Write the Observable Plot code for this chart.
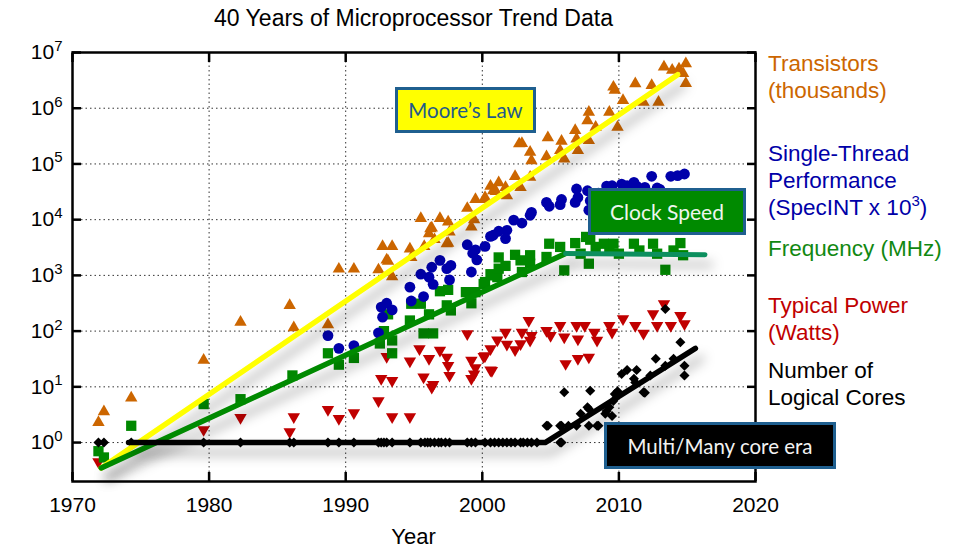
<!DOCTYPE html>
<html><head><meta charset="utf-8">
<script src="https://cdn.jsdelivr.net/npm/d3@7"></script>
<script src="https://cdn.jsdelivr.net/npm/@observablehq/plot@0.6"></script>
<style>
body{margin:0;background:#fff;font-family:"Liberation Sans",Arial,sans-serif;}
#wrap{position:relative;width:963px;height:549px;overflow:hidden;background:#fff;}
#title{position:absolute;left:72px;width:683px;top:0;height:36px;line-height:36px;text-align:center;font-size:23px;color:#000;}
#xlabel{position:absolute;left:72px;width:683px;top:524px;height:26px;line-height:26px;text-align:center;font-size:22px;color:#000;}
#chart{position:absolute;left:0;top:36px;}
.legend{position:absolute;left:768px;font-size:22.5px;line-height:27px;white-space:nowrap;}
.legend sup{font-size:15px;line-height:0;vertical-align:9px;}
.box{position:absolute;box-sizing:border-box;border:3px solid #1f5f8f;display:flex;align-items:center;justify-content:center;font-family:Lato,"Open Sans",sans-serif;font-size:20.5px;white-space:nowrap;}
</style></head><body>
<div id="wrap">
<div id="title">40 Years of Microprocessor Trend Data</div>
<div id="chart"></div>
<div id="xlabel">Year</div>
<div class="legend" style="top:50px;color:#cc6600">Transistors<br>(thousands)</div>
<div class="legend" style="top:140px;color:#0000a8">Single-Thread<br>Performance<br>(SpecINT x 10<sup>3</sup>)</div>
<div class="legend" style="top:235px;color:#118811">Frequency (MHz)</div>
<div class="legend" style="top:292px;color:#c00000">Typical Power<br>(Watts)</div>
<div class="legend" style="top:357px;color:#000">Number of<br>Logical Cores</div>
<div class="box" style="left:395px;top:87px;width:141px;height:46px;background:#ffff00;color:#1f5a8a">Moore’s Law</div>
<div class="box" style="left:588px;top:188px;width:158px;height:47px;background:#008a00;color:#eef6ee;font-size:21px">Clock Speed</div>
<div class="box" style="left:604px;top:422px;width:232px;height:47px;background:#000;color:#f2f2f2;font-size:20.5px">Multi/Many core era</div>
</div>
<script>
const xTicks = [1970, 1980, 1990, 2000, 2010, 2020];
const yTicks = [1, 10, 100, 1000, 10000, 100000, 1000000, 10000000];
const yTickExp = ["0", "1", "2", "3", "4", "5", "6", "7"];

const transistors = [[1971.9,2.3],[1972.3,3.6],[1974.3,6.3],[1979.6,30],[1982.3,145],[1985.9,290],[1986.2,115],[1988.7,130],[1989.5,1300],[1990.6,1300],[1992.4,1260],[1992.7,3300],[1993.0,1900],[1993.4,3300],[1993.4,950],[1993.1,1800],[1994.7,3000],[1994.8,2100],[1995.5,10500],[1995.75,3300],[1996.1,5600],[1996.3,7100],[1996.2,6900],[1996.5,4400],[1996.9,10500],[1997.4,3700],[1997.5,9100],[1997.5,3800],[1997.6,6000],[1998.9,16000],[1999.2,7400],[1999.5,23000],[1999.4,10000],[2000.2,23000],[2000.2,25000],[2000.6,40000],[2000.8,33000],[2001.0,32000],[2001.2,46000],[2001.7,38000],[2001.8,27000],[2002.4,60000],[2002.8,38000],[2002.7,230000],[2002.9,234000],[2003.5,162000],[2003.5,58000],[2003.6,115000],[2004.7,135000],[2004.8,295000],[2005.7,174000],[2005.8,257000],[2006.0,123000],[2006.8,400000],[2006.9,282000],[2007.0,174000],[2007.7,600000],[2007.8,850000],[2007.8,263000],[2008.3,457000],[2009.3,850000],[2009.6,2400000],[2009.7,2100000],[2009.9,457000],[2010.3,1380000],[2011.2,2750000],[2011.8,1290000],[2012.4,2570000],[2012.9,1290000],[2013.3,5500000],[2013.9,4800000],[2014.4,5100000],[2014.7,4200000],[2014.9,6300000],[2014.9,2800000]];

const performance = [[1988.7,83],[1989.5,49],[1990.6,55],[1992.4,93],[1992.6,270],[1992.7,178],[1993.0,316],[1993.4,240],[1994.7,615],[1994.8,347],[1995.5,1050],[1995.7,417],[1996.1,930],[1996.3,1400],[1996.4,690],[1996.9,1860],[1997.4,1320],[1997.6,830],[1997.7,1510],[1998.9,3550],[1999.2,1150],[1999.3,2500],[1999.5,2880],[1999.6,1900],[2000.2,3310],[2000.6,5000],[2000.8,5250],[2001.2,6200],[2001.7,4570],[2001.8,6450],[2002.3,9800],[2002.9,8700],[2003.5,12000],[2003.6,13500],[2004.7,20400],[2004.9,17400],[2005.7,18600],[2005.8,23000],[2006.8,20400],[2006.9,35500],[2007.0,25000],[2007.7,33000],[2007.8,14800],[2007.9,21900],[2008.5,30000],[2009.1,40000],[2009.5,40700],[2009.8,28000],[2010.2,43600],[2010.6,40700],[2011.1,46800],[2011.3,40000],[2011.5,32000],[2011.9,38000],[2012.4,60000],[2012.8,37000],[2013.0,35000],[2013.8,60000],[2014.3,61700],[2014.8,66000]];

const frequency = [[1971.9,0.7],[1972.3,0.54],[1974.3,2.0],[1979.6,4.9],[1982.3,6.0],[1986.1,16],[1988.7,40],[1989.5,25],[1990.6,33],[1992.5,60],[1992.8,100],[1993.1,200],[1993.4,40],[1993.4,68],[1994.7,155],[1994.8,310],[1995.5,310],[1995.7,91],[1996.1,200],[1996.4,91],[1996.9,520],[1997.4,290],[1997.5,550],[1997.7,235],[1998.8,500],[1999.2,316],[1999.5,500],[2000.1,700],[2000.2,760],[2000.6,1050],[2000.7,1000],[2001.1,930],[2001.2,2100],[2001.2,1320],[2001.7,1480],[2002.4,2340],[2002.8,1860],[2002.9,1150],[2003.5,2300],[2003.5,1620],[2004.7,2140],[2004.9,3700],[2005.7,3240],[2006.0,1230],[2006.8,3800],[2007.2,2450],[2007.6,4900],[2007.8,1620],[2007.9,4370],[2008.3,3240],[2008.9,3700],[2009.3,3000],[2009.6,3700],[2010.0,2450],[2011.1,3700],[2011.5,2800],[2012.5,3700],[2012.8,2450],[2013.4,1260],[2014.0,2800],[2014.5,3800],[2014.7,2300]];

const power = [[1971.9,0.45],[1979.6,1.7],[1982.3,2.8],[1985.9,1.55],[1986.2,2.9],[1988.7,3.9],[1989.5,2.7],[1990.6,3.4],[1992.4,5.6],[1992.6,14],[1993.0,35],[1993.4,13],[1993.4,2.9],[1994.7,2.9],[1994.7,29],[1995.4,48],[1995.7,15],[1996.1,32],[1996.3,9.8],[1996.4,11],[1996.9,45],[1997.4,34],[1997.5,24],[1997.6,16],[1998.9,89],[1999.2,30],[1999.2,14],[1999.4,17],[1999.5,22],[2000.1,35],[2000.2,36],[2000.6,20],[2000.6,48],[2000.7,19.5],[2001.1,69],[2001.7,95],[2001.8,58],[2002.4,46],[2002.8,59],[2002.9,95],[2003.4,155],[2003.5,68],[2003.6,83],[2004.7,102],[2005.0,83],[2005.7,126],[2006.0,78],[2006.1,26],[2006.9,126],[2007.0,72],[2007.0,32],[2007.5,126],[2007.8,34],[2008.2,95],[2008.4,68],[2009.3,126],[2009.5,95],[2010.3,166],[2011.2,126],[2011.8,91],[2012.5,204],[2012.8,126],[2013.3,310],[2013.8,126],[2014.5,190],[2014.8,135]];

const cores = [[1971.9,1],[1972.3,1],[1974.3,1],[1979.6,1],[1982.3,1],[1985.9,1],[1986.2,1],[1988.7,1],[1989.5,1],[1990.6,1],[1992.4,1],[1992.6,1],[1992.8,1],[1993.0,1],[1993.4,1],[1994.7,1],[1995.5,1],[1995.8,1],[1996.0,1],[1996.2,1],[1996.5,1],[1996.8,1],[1997.0,1],[1997.3,1],[1997.6,1],[1998.9,1],[1999.2,1],[1999.5,1],[2000.2,1],[2000.6,1],[2000.9,1],[2001.2,1],[2001.5,1],[2001.8,1],[2002.1,1],[2002.4,1],[2002.8,1],[2003.0,1],[2003.3,1],[2003.6,1],[2004.0,1],[2005.7,1],[2005.8,1],[2004.7,2],[2004.8,2],[2005.7,2],[2005.8,2],[2006.0,8],[2006.3,2],[2006.9,2],[2007.2,3.3],[2007.7,4.3],[2007.8,2],[2007.8,4],[2007.9,8.5],[2008.4,2],[2008.5,2],[2009.0,3.3],[2009.1,3.7],[2009.3,4.3],[2009.5,3],[2009.6,5.6],[2009.7,7.4],[2009.9,8.3],[2010.2,17],[2010.6,20],[2011.1,14],[2011.2,12],[2011.3,20],[2011.8,8],[2011.9,7.8],[2012.3,16],[2012.7,32],[2013.4,24],[2013.4,250],[2014.0,32],[2014.5,63],[2014.8,24],[2014.8,16]];

const mooreLine = [[1972.1,0.35],[2014.3,4000000]];
const clockRise = [[1972.1,0.35],[2006.1,2460]];
const clockFlat = [[2006.1,2460],[2016.3,2350]];
const coresLine = [[1974.1,1],[2004.6,1],[2015.6,49]];

const X = d => d[0], Y = d => d[1];
const shadow = "drop-shadow(6px 10px 6px rgba(0,0,0,0.32))";
const hide = () => "";

const chart = Plot.plot({
  width: 963, height: 513,
  marginTop: 16, marginBottom: 68, marginLeft: 72, marginRight: 208,
  style: {fontFamily: '"Liberation Sans", Arial, sans-serif', fontSize: "21px", color: "#000", background: "#fff", overflow: "visible"},
  x: {domain: [1970, 2020]},
  y: {type: "log", domain: [0.2, 1e7]},
  marks: [
    Plot.gridX(xTicks, {stroke: "#333", strokeOpacity: 1, strokeDasharray: "1.5,3"}),
    Plot.gridY(yTicks, {stroke: "#333", strokeOpacity: 1, strokeDasharray: "1.5,3"}),
    Plot.dot(transistors, {x: X, y: Y, symbol: "triangle", r: 4.6, fill: "#cc6600"}),
    Plot.dot(power, {x: X, y: Y, symbol: "triangle", rotate: 180, r: 4.6, fill: "#c00000"}),
    Plot.dot(frequency, {x: X, y: Y, symbol: "square", r: 5.8, fill: "#008800"}),
    Plot.dot(performance, {x: X, y: Y, symbol: "circle", r: 5.4, fill: "#0000aa"}),
    Plot.dot(cores, {x: X, y: Y, symbol: "square", rotate: 45, r: 4, fill: "#000"}),
    Plot.line(mooreLine, {x: X, y: Y, stroke: "#ffff00", strokeWidth: 5.5, imageFilter: shadow}),
    Plot.line(clockRise, {x: X, y: Y, stroke: "#008a00", strokeWidth: 5.5, imageFilter: shadow}),
    Plot.line(clockFlat, {x: X, y: Y, stroke: "#0c8f5e", strokeWidth: 5, imageFilter: shadow}),
    Plot.line(coresLine, {x: X, y: Y, stroke: "#000", strokeWidth: 5.5, imageFilter: shadow}),
    Plot.frame({stroke: "#000", strokeWidth: 2.5}),
    Plot.axisY(yTicks, {anchor: "left", tickSize: 0, tickPadding: 10, label: null,
      tickFormat: d => "10^" + yTickExp[yTicks.indexOf(d)]}),
    Plot.axisY(yTicks, {anchor: "left", tickSize: 9, dx: 9, strokeWidth: 2.5, tickFormat: hide, label: null}),
    Plot.axisY(yTicks, {anchor: "right", tickSize: 9, dx: -9, strokeWidth: 2.5, tickFormat: hide, label: null}),
    Plot.axisX(xTicks, {anchor: "bottom", tickSize: 0, tickPadding: 16, label: null, tickFormat: d => String(d)}),
    Plot.axisX(xTicks, {anchor: "bottom", tickSize: 9, dy: -9, strokeWidth: 2.5, tickFormat: hide, label: null}),
    Plot.axisX(xTicks, {anchor: "top", tickSize: 9, dy: 9, strokeWidth: 2.5, tickFormat: hide, label: null})
  ]
});
document.getElementById("chart").appendChild(chart);

// render "10^n" tick labels with a raised exponent
d3.select(chart).selectAll('g[aria-label="y-axis tick label"] text').each(function() {
  const t = this.textContent;
  if (t.indexOf("^") < 0) return;
  const [base, exp] = t.split("^");
  const sel = d3.select(this);
  sel.text(null);
  sel.append("tspan").text(base);
  sel.append("tspan").attr("dy", "-0.55em").attr("font-size", "15px").text(exp);
});
</script>
</body></html>
